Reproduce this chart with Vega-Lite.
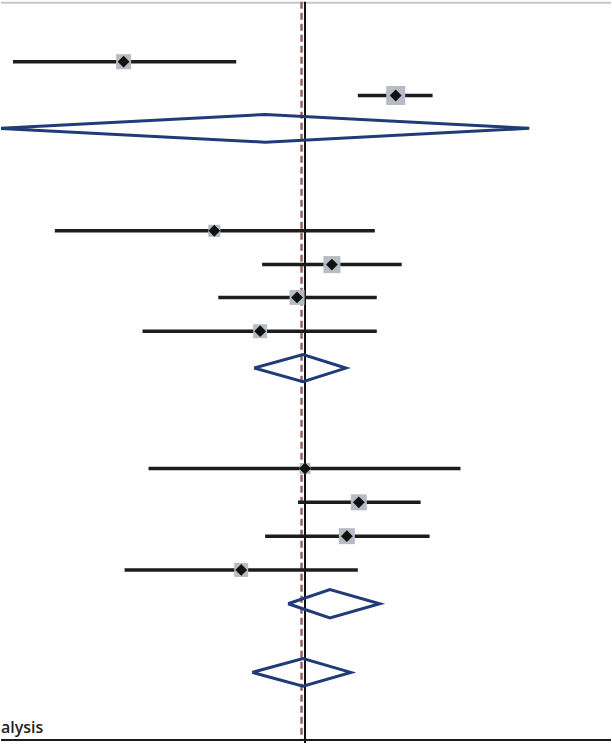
{
  "$schema": "https://vega.github.io/schema/vega-lite/v6.json",
  "autosize": {"type": "fit", "contains": "padding"},
  "width": 612,
  "height": 745,
  "padding": 0,
  "background": "white",
  "config": {"view": {"stroke": null}, "axis": {"disable": true}, "legend": {"disable": true}},
  "datasets": {
    "studies": [
      {"row": 0, "lo": -2.93, "est": -1.82, "hi": -0.69, "weight": 9.0},
      {"row": 1, "lo": 0.53, "est": 0.91, "hi": 1.28, "weight": 14.4},
      {"row": 5, "lo": -2.51, "est": -0.91, "hi": 0.70, "weight": 5.8},
      {"row": 6, "lo": -0.43, "est": 0.27, "hi": 0.97, "weight": 11.6},
      {"row": 6.97, "lo": -0.87, "est": -0.08, "hi": 0.72, "weight": 9.0},
      {"row": 7.97, "lo": -1.63, "est": -0.45, "hi": 0.72, "weight": 7.8},
      {"row": 12.03, "lo": -1.57, "est": 0.0, "hi": 1.56, "weight": 4.8},
      {"row": 13.03, "lo": -0.07, "est": 0.54, "hi": 1.16, "weight": 10.2},
      {"row": 14.03, "lo": -0.40, "est": 0.42, "hi": 1.25, "weight": 10.2},
      {"row": 15.03, "lo": -1.81, "est": -0.64, "hi": 0.53, "weight": 7.8}
    ],
    "diamonds": [
      {"id": "A", "ord": 0, "x": -3.07, "row": 1.97},
      {"id": "A", "ord": 1, "x": -0.40, "row": 1.56},
      {"id": "A", "ord": 2, "x": 2.25, "row": 1.97},
      {"id": "A", "ord": 3, "x": -0.40, "row": 2.38},
      {"id": "A", "ord": 4, "x": -3.07, "row": 1.97},
      {"id": "B", "ord": 0, "x": -0.51, "row": 9.06},
      {"id": "B", "ord": 1, "x": -0.02, "row": 8.66},
      {"id": "B", "ord": 2, "x": 0.41, "row": 9.06},
      {"id": "B", "ord": 3, "x": -0.02, "row": 9.46},
      {"id": "B", "ord": 4, "x": -0.51, "row": 9.06},
      {"id": "C", "ord": 0, "x": -0.17, "row": 16.03},
      {"id": "C", "ord": 1, "x": 0.25, "row": 15.61},
      {"id": "C", "ord": 2, "x": 0.75, "row": 16.03},
      {"id": "C", "ord": 3, "x": 0.25, "row": 16.45},
      {"id": "C", "ord": 4, "x": -0.17, "row": 16.03},
      {"id": "D", "ord": 0, "x": -0.53, "row": 18.06},
      {"id": "D", "ord": 1, "x": -0.02, "row": 17.65},
      {"id": "D", "ord": 2, "x": 0.46, "row": 18.06},
      {"id": "D", "ord": 3, "x": -0.02, "row": 18.47},
      {"id": "D", "ord": 4, "x": -0.53, "row": 18.06}
    ]
  },
  "encoding": {
    "x": {"type": "quantitative", "scale": {"domain": [-3.05, 3.07], "nice": false, "zero": false}, "axis": null},
    "y": {"type": "quantitative", "scale": {"domain": [-1.7647, 20.147], "reverse": true, "nice": false, "zero": false}, "axis": null}
  },
  "layer": [
    {
      "data": {"values": [{"x1": -3.05, "x2": 3.07, "row": -1.74}]},
      "mark": {"type": "rule", "color": "#c4c7cc", "strokeWidth": 2},
      "encoding": {
        "x": {"field": "x1", "type": "quantitative"},
        "x2": {"field": "x2"},
        "y": {"field": "row", "type": "quantitative"}
      }
    },
    {
      "data": {"values": [{"x": -0.035, "r1": -1.77, "r2": 20.06}]},
      "mark": {"type": "rule", "color": "#956464", "strokeWidth": 2.5, "strokeDash": [7, 4]},
      "encoding": {
        "x": {"field": "x", "type": "quantitative"},
        "y": {"field": "r1", "type": "quantitative"},
        "y2": {"field": "r2"}
      }
    },
    {
      "data": {"values": [{"x": 0, "r1": -1.77, "r2": 20.15}]},
      "mark": {"type": "rule", "color": "#111111", "strokeWidth": 2},
      "encoding": {
        "x": {"field": "x", "type": "quantitative"},
        "y": {"field": "r1", "type": "quantitative"},
        "y2": {"field": "r2"}
      }
    },
    {
      "data": {"values": [{"x1": -3.05, "x2": 3.07, "row": 20.06}]},
      "mark": {"type": "rule", "color": "#1a1a1a", "strokeWidth": 2},
      "encoding": {
        "x": {"field": "x1", "type": "quantitative"},
        "x2": {"field": "x2"},
        "y": {"field": "row", "type": "quantitative"}
      }
    },
    {
      "data": {"name": "studies"},
      "mark": {"type": "rule", "color": "#1c1c1c", "strokeWidth": 3.5},
      "encoding": {
        "x": {"field": "lo", "type": "quantitative"},
        "x2": {"field": "hi"},
        "y": {"field": "row", "type": "quantitative"}
      }
    },
    {
      "data": {"name": "studies"},
      "mark": {"type": "square", "color": "#b7bcc4", "opacity": 1, "filled": true},
      "encoding": {
        "x": {"field": "est", "type": "quantitative"},
        "y": {"field": "row", "type": "quantitative"},
        "size": {"field": "weight", "type": "quantitative", "scale": {"type": "linear", "domain": [0, 14.4], "range": [0, 361], "zero": true}, "legend": null}
      }
    },
    {
      "data": {"name": "studies"},
      "mark": {"type": "point", "shape": "diamond", "filled": true, "color": "#111111", "opacity": 1, "size": 140},
      "encoding": {
        "x": {"field": "est", "type": "quantitative"},
        "y": {"field": "row", "type": "quantitative"}
      }
    },
    {
      "data": {"name": "diamonds"},
      "mark": {"type": "line", "color": "#1f3c78", "strokeWidth": 3, "strokeJoin": "miter", "clip": true},
      "encoding": {
        "x": {"field": "x", "type": "quantitative"},
        "y": {"field": "row", "type": "quantitative"},
        "detail": {"field": "id"},
        "order": {"field": "ord", "type": "quantitative"}
      }
    },
    {
      "data": {"values": [{"x": -3.05, "row": 19.84, "label": "alysis"}]},
      "mark": {"type": "text", "align": "left", "baseline": "alphabetic", "font": "Open Sans", "fontWeight": 600, "fontSize": 16, "color": "#222222"},
      "encoding": {
        "x": {"field": "x", "type": "quantitative"},
        "y": {"field": "row", "type": "quantitative"},
        "text": {"field": "label"}
      }
    }
  ]
}
